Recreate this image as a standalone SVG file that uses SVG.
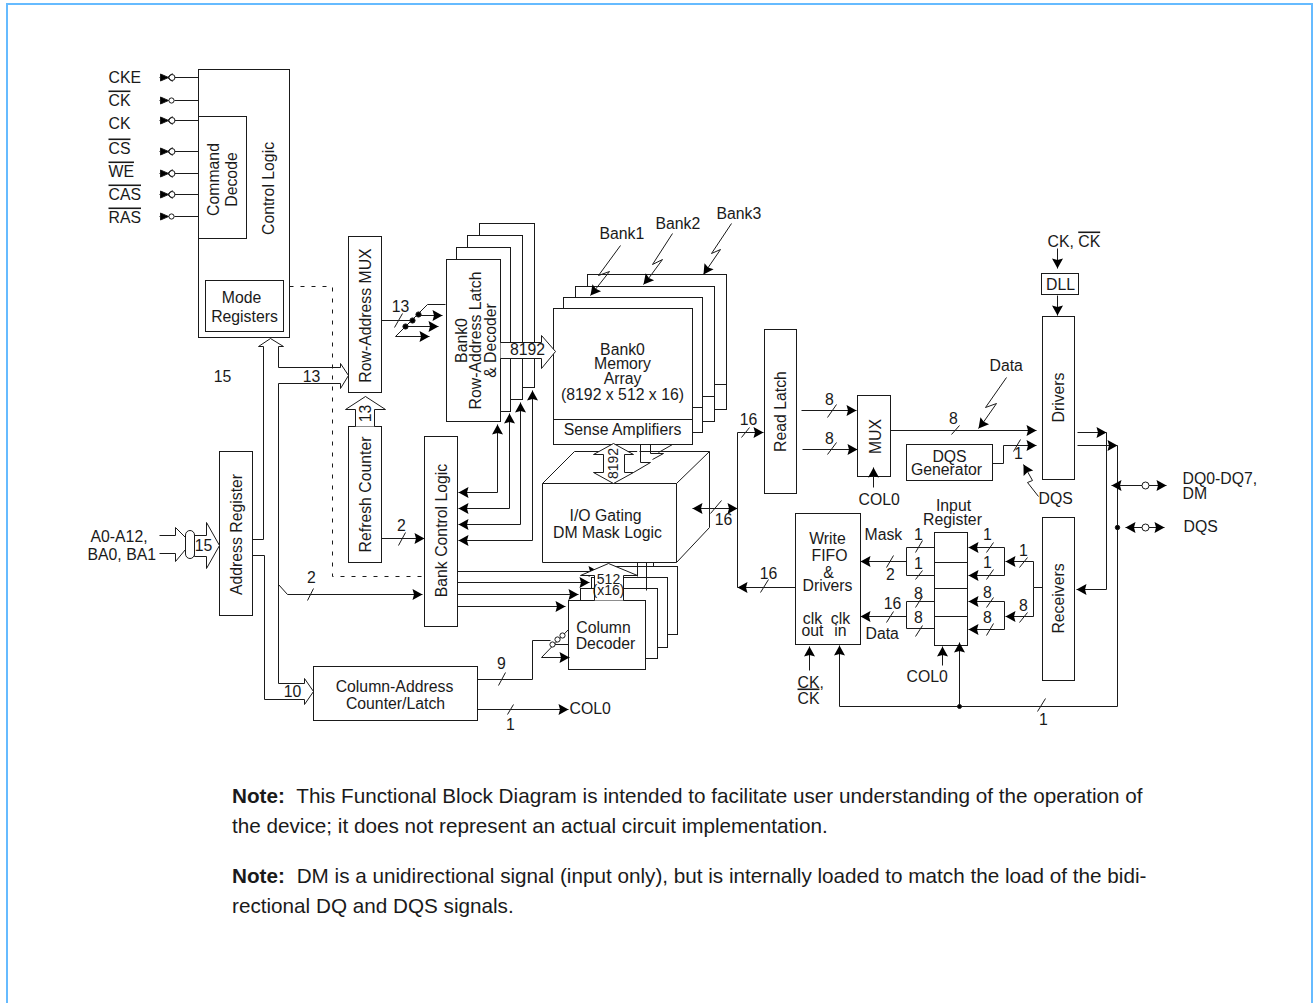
<svg xmlns="http://www.w3.org/2000/svg" width="1313" height="1003" viewBox="0 0 1313 1003">
<style>
text{font-family:"Liberation Sans",Arial,sans-serif;font-size:15.8px;fill:#1a1a1a}
.m{text-anchor:middle}
.s{font-size:14px}
.o{text-decoration:overline}
.n{font-size:20.7px}
.b{font-weight:bold}
rect,.box{fill:#fff;stroke:#1a1a1a;stroke-width:1}
.l,.l path,.l line,.l polyline{fill:none;stroke:#1a1a1a;stroke-width:1}
.a{marker-end:url(#h)}
.w{fill:#fff !important}
.d{stroke-dasharray:4 7}
</style>
<defs>
<marker id="h" markerUnits="userSpaceOnUse" markerWidth="12" markerHeight="12" viewBox="0 0 12 12" refX="11" refY="6" orient="auto"><path d="M1,.5L11,6L1,11.5L2.5,6z" fill="#000"/></marker>
<g id="pin"><path d="M-14,0H-5" stroke="#1a1a1a" fill="none"/><path d="M-13,-3.5L-5,0L-13,3.5z" fill="#000"/><circle cx="-2" cy="0" r="2.6" fill="#fff" stroke="#1a1a1a"/></g>
<g id="pinw"><path d="M-14,0H-5" stroke="#1a1a1a" fill="none"/><path d="M-13,-3.5L-5,0L-13,3.5z" fill="#000"/><circle cx="-1.5" cy="0" r="3" fill="#fff" stroke="#1a1a1a"/><path d="M-1,-4L-6,0L-1,4" fill="none" stroke="#1a1a1a"/></g>
<g id="pio"><circle cx="0" cy="0" r="3.5" fill="#fff" stroke="#1a1a1a"/></g>
</defs>
<path d="M7,1003V4H1312V1003" fill="none" stroke="#66bbff" stroke-width="2"/>
<g transform="translate(.5 .5)">
<g id="control-logic"><rect x="198" y="69" width="91" height="268"/><text class="m" transform="translate(273 188) rotate(-90)">Control Logic</text></g>
<g id="command-decode"><rect x="198" y="116" width="48" height="122"/><text class="m" transform="translate(218 179) rotate(-90)">Command</text><text class="m" transform="translate(236 179) rotate(-90)">Decode</text></g>
<g id="mode-registers"><rect x="205" y="280" width="78" height="51"/><text class="m" x="241" y="302">Mode</text><text class="m" x="244" y="321">Registers</text></g>
<g id="inputs"><text x="108" y="82">CKE</text><text class="o" x="108" y="105">CK</text><text x="108" y="128">CK</text><text class="o" x="108" y="153">CS</text><text class="o" x="108" y="176">WE</text><text class="o" x="108" y="199">CAS</text><text class="o" x="108" y="222">RAS</text></g>
<g id="address-register"><rect x="219" y="451" width="33" height="164"/><text class="m" transform="translate(241 534) rotate(-90)">Address Register</text></g>
<g id="row-address-mux"><rect x="348" y="236" width="33" height="156"/><text class="m" transform="translate(370 315) rotate(-90)">Row-Address MUX</text></g>
<g id="refresh-counter"><rect x="348" y="426" width="33" height="136"/><text class="m" transform="translate(370 494) rotate(-90)">Refresh Counter</text></g>
<g id="row-latch"><rect x="479" y="223" width="55" height="164"/><rect x="467" y="235" width="55" height="164"/><rect x="456" y="247" width="54" height="164"/><rect x="446" y="259" width="54" height="162"/><text class="m" transform="translate(466 340) rotate(-90)">Bank0</text><text class="m" transform="translate(480 340) rotate(-90)">Row-Address Latch</text><text class="m" transform="translate(495 340) rotate(-90)">&amp; Decoder</text></g>
<g id="bank-control"><rect x="424" y="436" width="33" height="190"/><text class="m" transform="translate(446 530) rotate(-90)">Bank Control Logic</text></g>
<g id="memory-array"><rect x="587" y="274" width="139" height="135"/><path class="box" d="M714,384H726"/><rect x="575" y="286" width="139" height="135"/><path class="box" d="M702,396H714"/><rect x="563" y="297" width="139" height="135"/><path class="box" d="M692,407H702"/><rect x="553" y="308" width="139" height="136"/><path class="box" d="M553,419H692"/><text class="m" x="622" y="354">Bank0</text><text class="m" x="622" y="368">Memory</text><text class="m" x="622" y="383">Array</text><text class="m" x="622" y="399">(8192 x 512 x 16)</text><text class="m" x="622" y="434">Sense Amplifiers</text></g>
<g id="io-gating"><path class="box" d="M542,483L574,451H709V527L676,562H542Z"/><path class="box" d="M542,483H676V562M676,483L709,451"/><text class="m" x="605" y="520">I/O Gating</text><text class="m" x="607" y="537">DM Mask Logic</text></g>
<g id="column-decoder"><rect x="603" y="566" width="74" height="68"/><rect x="591" y="577" width="76" height="70"/><rect x="580" y="588" width="77" height="70"/><rect x="568" y="600" width="77" height="69"/><text class="m" x="603" y="632">Column</text><text class="m" x="605" y="648">Decoder</text></g>
<g id="column-address"><rect x="313" y="666" width="164" height="54"/><text class="m" x="394" y="691">Column-Address</text><text class="m" x="395" y="708">Counter/Latch</text></g>
<g id="read-latch"><rect x="764" y="329" width="32" height="164"/><text class="m" transform="translate(785 411) rotate(-90)">Read Latch</text></g>
<g id="mux"><rect x="857" y="395" width="33" height="81"/><text class="m" transform="translate(880 436) rotate(-90)">MUX</text></g>
<g id="dqs-generator"><rect x="906" y="444" width="86" height="36"/><text class="m" x="949" y="461">DQS</text><text class="m" x="946" y="474">Generator</text></g>
<g id="dll"><rect x="1041" y="273" width="37" height="21"/><text class="m" x="1060" y="289">DLL</text></g>
<g id="drivers"><rect x="1042" y="316" width="32" height="163"/><text class="m" transform="translate(1063 397) rotate(-90)">Drivers</text></g>
<g id="receivers"><rect x="1042" y="517" width="32" height="163"/><text class="m" transform="translate(1063 598) rotate(-90)">Receivers</text></g>
<g id="write-fifo"><rect x="795" y="513" width="65" height="131"/><text class="m" x="827" y="543">Write</text><text class="m" x="829" y="560">FIFO</text><text class="m" x="828" y="577">&amp;</text><text class="m" x="827" y="590">Drivers</text><text class="m" x="812" y="623">clk</text><text class="m" x="812" y="635">out</text><text class="m" x="840" y="623">clk</text><text class="m" x="840" y="635">in</text></g>
<g id="input-register"><rect x="934" y="532" width="33" height="113"/><path class="box" d="M934,562H967M934,588H967M934,616H967"/><text class="m" x="953" y="510">Input</text><text class="m" x="952" y="524">Register</text></g>

<g id="connectors" class="l">
<use href="#pinw" x="173" y="77"/><use href="#pin" x="173" y="100"/><use href="#pinw" x="173" y="120"/><use href="#pinw" x="173" y="151"/><use href="#pinw" x="173" y="173"/><use href="#pinw" x="173" y="194"/><use href="#pin" x="173" y="216"/>
<path d="M174,77H198M174,100H198M174,120H198M174,151H198M174,173H198M174,194H198M174,216H198"/>
<path class="d" d="M289,286H332V576H424"/>
<path d="M159,535H175V527L185,537V549L175,561V553H159"/>
<path class="w" d="M194,535H206V522L219,545L206,568V556H194Z"/>
<rect x="185" y="530" width="9" height="28" rx="4.5"/>
<path d="M252,539H263V346H258L270,338L283,346H278V367H340V363L348,375L340,388V383H278V683H304V678L313,691L304,704V699H264V555H252"/>
<path d="M278,584L287,594H422" class="a"/>
<path d="M313,588L307,600"/>
<path class="w" d="M355,426V409H345L365,396L385,409H374V426"/>
<path d="M381,320H412M395,336L427,304H445"/>
<path class="a" d="M418,315H442"/><path class="a" d="M405,326H438"/><path class="a" d="M395,336H429"/>
<path d="M402,313L394,327"/>
<circle cx="418" cy="314" r="2.6" fill="#000"/><circle cx="412" cy="320" r="2.6" fill="#000"/><circle cx="405" cy="326" r="2.6" fill="#000"/>
<path class="w" d="M500,342H541V335L555,351L541,368V358H500"/>
<path class="a" d="M381,538H424"/><path d="M405,532L398,545"/>
<path class="a" d="M497,492H458"/><path class="a" d="M497,492V424"/>
<path class="a" d="M509,508H458"/><path class="a" d="M509,508V413"/>
<path class="a" d="M520,524H458"/><path class="a" d="M520,524V402"/>
<path class="a" d="M532,540H458"/><path class="a" d="M532,540V390"/>
<path class="a" d="M620,245L598,275L609,271L594,290L590,295"/>
<path class="a" d="M672,233L652,264L662,259L648,278L643,284"/>
<path class="a" d="M731,223L711,253L720,249L707,268L703,274"/>
<path class="w" d="M639,444V462H650L633,472V462Z" style="stroke:none"/>
<path d="M640,444V462H650L633,472M650,444V453H663L652,459M672,444L658,452"/>
<path class="w" d="M613,443L633,454H624V472H633L613,483L593,472H603V454H593Z"/>
<path class="a" d="M457,571H598"/><path class="a" d="M457,582H589"/><path class="a" d="M457,594H578"/><path class="a" d="M457,606H565"/>
<path d="M637,562V576M646,562V590M653,562V566"/>
<path class="w" d="M594,600V575H580L608,563L637,575H623V600"/>
<path d="M477,679H532V640H550M541,657L568,629M553,644H568"/>
<path class="a" d="M541,657H569"/>
<path d="M505,672L498,685"/>
<circle cx="552" cy="644" r="2.6" fill="#fff"/><circle cx="557" cy="639" r="2.6" fill="#fff"/><circle cx="562" cy="635" r="2.6" fill="#fff"/>
<path class="a" d="M477,709H568"/><path d="M513,704L507,714"/>
<path class="a" d="M709,508H692"/><path class="a" d="M709,508H737"/><path d="M721,500L710,513"/>
<path class="a" d="M737,587V432H763"/><path d="M749,427L741,437"/>
<path class="a" d="M795,587H737"/><path d="M768,579L760,592"/>
<path class="a" d="M801,410H856"/><path class="a" d="M802,449H857"/><path d="M836,404L827,417M836,442L827,454"/>
<path class="a" d="M873,487V467"/>
<path class="a" d="M890,430H1036"/><path d="M959,425L951,434"/>
<path class="a" d="M1006,377L985,407L996,403L982,423L978,428"/>
<path class="a" d="M992,463H1003V445H1036"/><path d="M1020,439L1013,451"/>
<path class="a" d="M1038,496L1027,482L1032,480L1023,464"/>
<path class="a" d="M1057,248V268"/><path class="a" d="M1057,295V315"/>
<path class="a" d="M1077,432H1106"/><path class="a" d="M1106,432V589H1076"/>
<path class="a" d="M1077,445H1117"/><path d="M1117,445V706"/>
<path class="a" d="M1117,706H839V645"/><path class="a" d="M959,706V642"/><path d="M1045,698L1037,711"/>
<circle cx="959" cy="706" r="2" fill="#000"/><circle cx="1117" cy="527" r="2.2" fill="#000"/>
<path class="a" d="M1145,485H1111"/><path class="a" d="M1145,485H1166"/><use href="#pio" x="1145" y="485"/>
<path class="a" d="M1145,527H1125"/><path class="a" d="M1145,527H1164"/><use href="#pio" x="1145" y="527"/>
<path d="M934,547H906V575H934"/><path class="a" d="M906,561H860"/><path d="M893,555L886,567M922,540L915,552M922,570L915,579"/>
<path d="M934,601H906V628H934"/><path class="a" d="M906,616H860"/><path d="M893,611L886,622M922,596L915,607M922,625L915,636"/>
<path class="a" d="M1004,547H968"/><path class="a" d="M1004,575H968"/><path d="M1004,547V575"/>
<path class="a" d="M1004,601H968"/><path class="a" d="M1004,629H968"/><path d="M1004,601V629"/>
<path d="M1042,587H1033V561"/><path class="a" d="M1033,561H1005"/><path d="M1033,587V616"/><path class="a" d="M1033,616H1005"/>
<path d="M993,542L986,552M993,569L986,579M993,597L986,607M993,623L986,635M1027,557L1019,567M1027,612L1019,622"/>
<path class="a" d="M942,665V646"/><path class="a" d="M809,670V646"/>
</g>
<g id="labels">
<text class="m" x="222" y="381">15</text><text class="m" x="311" y="381">13</text><text class="m" x="292" y="696">10</text>
<text x="90" y="541">A0-A12,</text><text x="87" y="559">BA0, BA1</text><text class="m" x="203" y="550">15</text>
<text class="m" transform="translate(370 413) rotate(-90)">13</text>
<text class="m" x="400" y="311">13</text>
<text class="m" x="527" y="354">8192</text>
<text class="m s" transform="translate(617 463) rotate(-90)">8192</text>
<text class="m s" x="608" y="583">512</text><text class="m s" x="608" y="594">(x16)</text>
<text class="m" x="401" y="530">2</text><text class="m" x="311" y="582">2</text>
<text class="m" x="501" y="668">9</text><text class="m" x="510" y="729">1</text><text x="569" y="713">COL0</text>
<text x="599" y="238">Bank1</text><text x="655" y="228">Bank2</text><text x="716" y="218">Bank3</text>
<text class="m" x="723" y="524">16</text><text class="m" x="748" y="424">16</text><text class="m" x="768" y="578">16</text>
<text class="m" x="829" y="404">8</text><text class="m" x="829" y="443">8</text>
<text x="858" y="504">COL0</text><text class="m" x="953" y="423">8</text><text x="989" y="370">Data</text>
<text class="m" x="1018" y="458">1</text><text x="1038" y="503">DQS</text>
<text x="1047" y="246">CK, <tspan class="o">CK</tspan></text>
<text x="1182" y="483">DQ0-DQ7,</text><text x="1182" y="498">DM</text><text x="1183" y="531">DQS</text>
<text x="864" y="539">Mask</text><text class="m" x="890" y="579">2</text><text class="m" x="892" y="608">16</text><text x="865" y="638">Data</text>
<text class="m" x="918" y="539">1</text><text class="m" x="918" y="568">1</text><text class="m" x="918" y="598">8</text><text class="m" x="918" y="622">8</text>
<text class="m" x="987" y="539">1</text><text class="m" x="987" y="567">1</text><text class="m" x="987" y="597">8</text><text class="m" x="987" y="622">8</text>
<text class="m" x="1023" y="555">1</text><text class="m" x="1023" y="610">8</text>
<text x="906" y="681">COL0</text><text x="797" y="687">CK,</text><text class="o" x="797" y="703">CK</text><text class="m" x="1043" y="724">1</text>
</g>
</g>
<g id="notes">
<text class="n" x="232" y="803"><tspan class="b">Note:</tspan> <tspan dx="6">This Functional Block Diagram is intended to facilitate user understanding of the operation of</tspan></text>
<text class="n" x="232" y="833">the device; it does not represent an actual circuit implementation.</text>
<text class="n" x="232" y="883"><tspan class="b">Note:</tspan> <tspan dx="6">DM is a unidirectional signal (input only), but is internally loaded to match the load of the bidi-</tspan></text>
<text class="n" x="232" y="913">rectional DQ and DQS signals.</text>
</g>
</svg>
